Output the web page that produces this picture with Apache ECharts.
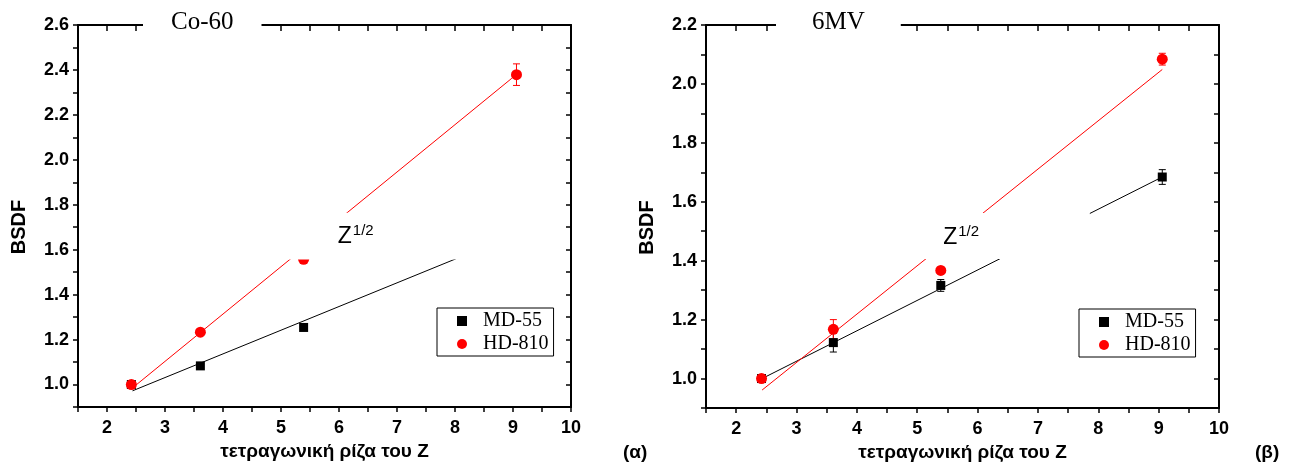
<!DOCTYPE html>
<html>
<head>
<meta charset="utf-8">
<script src="https://cdn.jsdelivr.net/npm/echarts@6.0.0/dist/echarts.min.js"></script>
<style>
  html, body { margin: 0; padding: 0; background: #fff; }
  #chart { width: 1300px; height: 468px; }
</style>
</head>
<body>
<div id="chart"></div>
<script>
// square root of Z for the four materials
var sqrtZ = [2.42, 3.61, 5.39, 9.06];

// (α) Co-60
var mdCo = [1.0, 1.083, 1.254];
var mdCoErr = [0.008, 0.01, 0.012];
var hdCo = [1.0, 1.233, 1.557, 2.379];
var hdCoErr = [0.008, 0.012, 0.015, 0.048];
var mdCoFit = [[2.44, 0.972], [8.02, 1.56]];
var hdCoFit = [[2.44, 0.985], [8.98, 2.363]];

// (β) 6MV
var md6 = [1.0, 1.122, 1.316, 1.684];
var md6Err = [0.008, 0.032, 0.02, 0.025];
var hd6 = [1.0, 1.167, 1.367, 2.084];
var hd6Err = [0.008, 0.033, 0.01, 0.02];
var md6Fit = [[2.43, 1.0], [9.02, 1.68]];
var hd6Fit = [[2.43, 0.961], [9.06, 2.049]];

// axis ranges
var xRange = [1.5, 10];
var yRangeCo = [0.9, 2.6];
var yRange6 = [0.9, 2.2];

var panelTitles = ['Co-60', '6MV'];
var panelTags = ['(α)', '(β)'];
var seriesNames = ['MD-55', 'HD-810'];
var xName = 'τετραγωνική ρίζα του Z';
var yName = 'BSDF';

var sans = 'Liberation Sans';
var serif = 'Liberation Serif';

function pts(xs, ys) {
  return ys.map(function (y, i) { return [xs[i], y]; });
}

function xAxes(gi) {
  var base = {
    gridIndex: gi, type: 'value', min: xRange[0], max: xRange[1], interval: 0.5,
    splitLine: { show: false },
    axisLine: { onZero: false, lineStyle: { color: '#000', width: 2 } }
  };
  return [
    Object.assign({}, base, {
      position: 'bottom',
      axisTick: { length: 5, lineStyle: { color: '#000', width: 1.5 } },
      axisLabel: {
        margin: 12, color: '#000', fontFamily: sans, fontWeight: 'bold', fontSize: 18,
        formatter: function (v) {
          return (Math.abs(v - Math.round(v)) < 1e-6 && v >= 2) ? String(Math.round(v)) : '';
        }
      },
      name: xName, nameLocation: 'middle', nameGap: 33,
      nameTextStyle: { color: '#000', fontFamily: sans, fontWeight: 'bold', fontSize: 19 }
    }),
    Object.assign({}, base, {
      position: 'top',
      axisTick: { inside: true, length: 6, lineStyle: { color: '#000', width: 1.5 } },
      axisLabel: { show: false }
    })
  ];
}

function yAxes(gi, range) {
  var base = {
    gridIndex: gi, type: 'value', min: range[0], max: range[1], interval: 0.1,
    splitLine: { show: false },
    axisLine: { onZero: false, lineStyle: { color: '#000', width: 2 } }
  };
  return [
    Object.assign({}, base, {
      position: 'left',
      axisTick: { length: 5, lineStyle: { color: '#000', width: 1.5 } },
      axisLabel: {
        margin: 9, color: '#000', fontFamily: sans, fontWeight: 'bold', fontSize: 18,
        formatter: function (v) {
          var t = Math.round(v * 10);
          return t % 2 === 0 ? (t / 10).toFixed(1) : '';
        }
      },
      name: yName, nameLocation: 'middle', nameGap: 49,
      nameTextStyle: { color: '#000', fontFamily: sans, fontWeight: 'bold', fontSize: 20, padding: [0, 22, 0, 0] }
    }),
    Object.assign({}, base, {
      position: 'right',
      axisTick: { inside: true, length: 5, lineStyle: { color: '#000', width: 1.5 } },
      axisLabel: { show: false }
    })
  ];
}

function errSeries(gi, xs, ys, es, color) {
  return {
    type: 'custom', xAxisIndex: gi * 2, yAxisIndex: gi * 2, z: 3, silent: true,
    encode: { x: 0, y: [1, 2] },
    data: ys.map(function (y, i) { return [xs[i], y - es[i], y + es[i]]; }),
    renderItem: function (params, api) {
      var lo = api.coord([api.value(0), api.value(1)]);
      var hi = api.coord([api.value(0), api.value(2)]);
      var w = 3.5;
      var st = { stroke: color, lineWidth: 1 };
      return {
        type: 'group', children: [
          { type: 'line', shape: { x1: lo[0], y1: lo[1], x2: hi[0], y2: hi[1] }, style: st },
          { type: 'line', shape: { x1: lo[0] - w, y1: lo[1], x2: lo[0] + w, y2: lo[1] }, style: st },
          { type: 'line', shape: { x1: hi[0] - w, y1: hi[1], x2: hi[0] + w, y2: hi[1] }, style: st }
        ]
      };
    }
  };
}

function fitSeries(gi, data, color) {
  return {
    type: 'line', xAxisIndex: gi * 2, yAxisIndex: gi * 2, data: data, z: 2,
    symbol: 'none', silent: true, animation: false,
    lineStyle: { color: color, width: 1 }
  };
}

function markSeries(gi, name, data, symbol, size, color) {
  return {
    type: 'scatter', name: name, xAxisIndex: gi * 2, yAxisIndex: gi * 2, data: data,
    symbol: symbol, symbolSize: size, z: name === 'HD-810' ? 5 : 4,
    itemStyle: { color: color, opacity: 1 }
  };
}

function legendAt(left, top) {
  return {
    data: [{ name: seriesNames[0], icon: 'rect' }, { name: seriesNames[1], icon: 'circle' }],
    orient: 'vertical', left: left, top: top, padding: [3, 5, 2, 20],
    itemGap: 3, itemWidth: 10, itemHeight: 10, selectedMode: false,
    borderColor: '#000', borderWidth: 1,
    textStyle: { fontFamily: serif, fontSize: 20, color: '#000', lineHeight: 20, padding: [0, 0, 0, 11] }
  };
}

var myChart = echarts.init(document.getElementById('chart'));

var option = {
  animation: false,
  backgroundColor: '#fff',
  title: [
    { text: panelTitles[0], left: 143, top: 6, padding: [4, 28, 4, 28], backgroundColor: '#fff',
      textStyle: { fontFamily: serif, fontSize: 25, fontWeight: 'normal', color: '#000' } },
    { text: panelTitles[1], left: 776, top: 6, padding: [4, 36, 4, 36], backgroundColor: '#fff',
      textStyle: { fontFamily: serif, fontSize: 25, fontWeight: 'normal', color: '#000' } }
  ],
  legend: [legendAt(437, 308), legendAt(1079, 309)],
  grid: [
    { left: 78, top: 25, width: 493, height: 382 },
    { left: 706, top: 25, width: 513, height: 383 }
  ],
  xAxis: xAxes(0).concat(xAxes(1)),
  yAxis: yAxes(0, yRangeCo).concat(yAxes(1, yRange6)),
  series: [
    fitSeries(0, mdCoFit, '#000'),
    fitSeries(0, hdCoFit, '#ff0000'),
    errSeries(0, sqrtZ, mdCo, mdCoErr, '#000'),
    errSeries(0, sqrtZ, hdCo, hdCoErr, '#ff0000'),
    markSeries(0, seriesNames[0], pts(sqrtZ, mdCo), 'rect', 9, '#000'),
    markSeries(0, seriesNames[1], pts(sqrtZ, hdCo), 'circle', 11, '#ff0000'),

    fitSeries(1, md6Fit, '#000'),
    fitSeries(1, hd6Fit, '#ff0000'),
    errSeries(1, sqrtZ, md6, md6Err, '#000'),
    errSeries(1, sqrtZ, hd6, hd6Err, '#ff0000'),
    markSeries(1, seriesNames[0], pts(sqrtZ, md6), 'rect', 9, '#000'),
    markSeries(1, seriesNames[1], pts(sqrtZ, hd6), 'circle', 11, '#ff0000')
  ]
};
myChart.setOption(option);

// Z^1/2 text boxes (white background hides part of the fit lines), placed in data coordinates
var notes = [
  { gi: 0, box: [[5.10, 1.765], [8.1, 1.556]], z: [5.98, 1.656] },
  { gi: 1, box: [[5.10, 1.562], [7.86, 1.406]], z: [5.43, 1.478] }
];
var graphic = [];
notes.forEach(function (n) {
  var finder = { xAxisIndex: n.gi * 2, yAxisIndex: n.gi * 2 };
  var a = myChart.convertToPixel(finder, n.box[0]);
  var b = myChart.convertToPixel(finder, n.box[1]);
  var p = myChart.convertToPixel(finder, n.z);
  graphic.push({
    type: 'rect', z: 100, silent: true,
    shape: { x: a[0], y: a[1], width: b[0] - a[0], height: b[1] - a[1] },
    style: { fill: '#fff' }
  });
  graphic.push({
    type: 'text', z: 101, silent: true, x: p[0], y: p[1],
    style: { text: 'Z', font: '23px "' + sans + '"', fill: '#000', align: 'left', verticalAlign: 'middle' }
  });
  graphic.push({
    type: 'text', z: 101, silent: true, x: p[0] + 15, y: p[1] - 6,
    style: { text: '1/2', font: '15px "' + sans + '"', fill: '#000', align: 'left', verticalAlign: 'middle' }
  });
});
graphic.push({
  type: 'text', x: 623, y: 453, silent: true,
  style: { text: panelTags[0], font: 'bold 19px "' + sans + '"', fill: '#000', align: 'left', verticalAlign: 'middle' }
});
graphic.push({
  type: 'text', x: 1255, y: 453, silent: true,
  style: { text: panelTags[1], font: 'bold 19px "' + sans + '"', fill: '#000', align: 'left', verticalAlign: 'middle' }
});
myChart.setOption({ graphic: graphic });
</script>
</body>
</html>
